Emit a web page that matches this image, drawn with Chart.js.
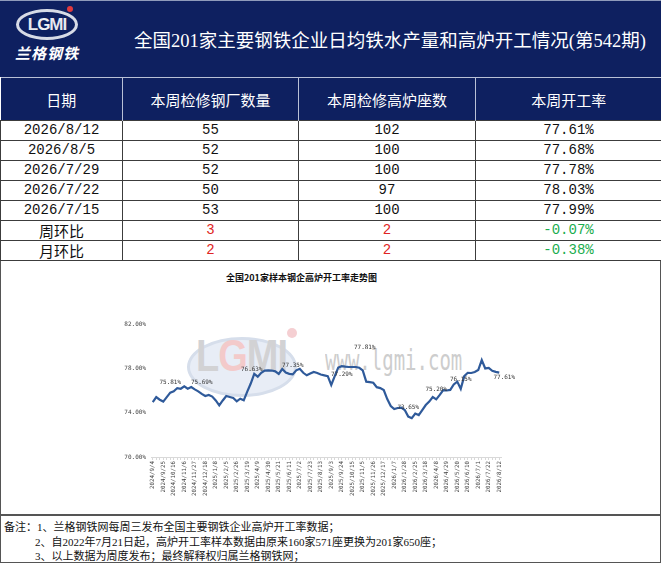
<!DOCTYPE html>
<html>
<head>
<meta charset="utf-8">
<script src="https://cdn.jsdelivr.net/npm/chart.js@4.4.1/dist/chart.umd.min.js"></script>
<style>
  body { margin: 0; width: 661px; height: 563px; position: relative; background: #fff; overflow: hidden;
         font-family: "Liberation Serif", "Noto Sans CJK SC", sans-serif; }
  .abs { position: absolute; }
  #head { left: 0; top: 0; width: 661px; height: 77px; background: #0e2060; border-top: 1px solid #8f9bbb; box-sizing: border-box; }
  #title { left: 134px; top: 28px; color: #fff; font-size: 18.5px; white-space: nowrap; line-height: 26px; }
  #ring { left: 16px; top: 9px; width: 56px; height: 25px; border-radius: 50%; border: 3px solid #d7dbe6;
          text-align: center; font: bold 17px/25px "Liberation Sans", sans-serif; color: #e6e8f0; letter-spacing: -1px; }
  #ring .g { color: #f0f0f4; }
  #dot { left: 67px; top: 6px; width: 6px; height: 6px; border-radius: 50%; background: #e0393e; }
  #cn { left: 15px; top: 43px; color: #fff; font: italic bold 15px/20px "Noto Sans CJK SC"; letter-spacing: 1px; }
  table { position: absolute; left: 0; top: 77px; width: 661px; border-collapse: collapse; table-layout: fixed; }
  th { background: #0e2060; color: #fff; font-weight: normal; font-size: 15px; height: 42px; padding: 0;
       border-left: 1px solid #b8c0d6; border-top: 1px solid #b8c0d6; font-family: "Noto Sans CJK SC"; }
  td { height: 19px; padding: 0; text-align: center; border: 1px solid #3c3c3c; font-size: 14px; line-height: 19px;
       font-family: "Liberation Mono", "Noto Sans CJK SC", monospace; color: #111; }
  td.cn { font-family: "Noto Sans CJK SC"; font-size: 15px; }
  .up { color: #e02424; }
  .down { color: #1aad4e; }
  #chartBox { left: 0; top: 261px; width: 659px; height: 253px; border-left: 1px solid #555; border-right: 1px solid #555; }
  #chartTitle { left: 226px; top: 272px; font: bold 9px/12px "Noto Sans CJK SC"; color: #111; white-space: nowrap; }
  #wmEll { left: 187px; top: 337px; width: 104px; height: 54px; border-radius: 50%; background: #e8edf6; border: 3px solid #d6deeb; }
  #wmText { left: 196px; top: 333px; font: bold 38px/40px "Liberation Sans", sans-serif; color: #d2d2d4;
            transform: scaleY(1.15); transform-origin: top left; letter-spacing: -1px; }
  #wmText .g { color: #f3caca; }
  #wmDot { left: 287px; top: 328px; width: 10px; height: 10px; border-radius: 50%; background: #f5cfd2; }
  #wmUrl { left: 325px; top: 347px; font: 19px/19px "DejaVu Sans Mono", monospace; color: #cdcdcd;
           transform: scaleY(1.45); transform-origin: top left; white-space: nowrap; }
  #chartWrap { left: 1px; top: 262px; }
  #notes { left: 0; top: 514px; width: 661px; height: 49px; box-sizing: border-box; border: 1px solid #555; border-top: 2px solid #555;
           font-size: 11px; line-height: 14.5px; padding: 4px 0 0 3px; color: #111; }
  #notes .ind { padding-left: 31px; }
</style>
</head>
<body>
<div id="head" class="abs"></div>
<div id="ring" class="abs">L<span class="g">G</span>MI</div>
<div id="dot" class="abs"></div>
<div id="cn" class="abs">兰格钢铁</div>
<div id="title" class="abs">全国201家主要钢铁企业日均铁水产量和高炉开工情况(第542期)</div>

<table>
  <colgroup><col style="width:122px"><col style="width:176px"><col style="width:177px"><col style="width:186px"></colgroup>
  <thead>
    <tr><th style="border-left:none">日期</th><th>本周检修钢厂数量</th><th>本周检修高炉座数</th><th>本周开工率</th></tr>
  </thead>
  <tbody id="tbody"></tbody>
</table>

<div id="chartBox" class="abs"></div>
<div id="wmEll" class="abs"></div>
<div id="wmText" class="abs">L<span class="g">G</span>MI</div>
<div id="wmDot" class="abs"></div>
<div id="wmUrl" class="abs">www.lgmi.com</div>
<div id="chartTitle" class="abs">全国201家样本钢企高炉开工率走势图</div>
<div id="chartWrap" class="abs"><canvas id="myChart" width="659" height="251"></canvas></div>

<div id="notes" class="abs">
  <div>备注：1、兰格钢铁网每周三发布全国主要钢铁企业高炉开工率数据；</div>
  <div class="ind">2、自2022年7月21日起，高炉开工率样本数据由原来160家571座更换为201家650座；</div>
  <div class="ind">3、以上数据为周度发布；最终解释权归属兰格钢铁网；</div>
</div>

<script>
  'use strict';

  ////// table data //////
  var tableDates = ['2026/8/12', '2026/8/5', '2026/7/29', '2026/7/22', '2026/7/15'];
  var millsDown = [55, 52, 52, 50, 53];
  var furnacesDown = [102, 100, 100, 97, 100];
  var rateText = ['77.61%', '77.68%', '77.78%', '78.03%', '77.99%'];
  var compareNames = ['周环比', '月环比'];
  var compareMills = [3, 2];
  var compareFurnaces = [2, 2];
  var compareRate = ['-0.07%', '-0.38%'];

  ////// chart data //////
  var dates = [
    '2024/9/4', '2024/9/11', '2024/9/18', '2024/9/25', '2024/10/2', '2024/10/9', '2024/10/16', '2024/10/23',
    '2024/10/30', '2024/11/6', '2024/11/13', '2024/11/20', '2024/11/27', '2024/12/4', '2024/12/11', '2024/12/18',
    '2024/12/25', '2025/1/1', '2025/1/8', '2025/1/15', '2025/1/22', '2025/2/5', '2025/2/12', '2025/2/19',
    '2025/2/26', '2025/3/5', '2025/3/12', '2025/3/19', '2025/3/26', '2025/4/2', '2025/4/9', '2025/4/16',
    '2025/4/23', '2025/4/30', '2025/5/7', '2025/5/14', '2025/5/21', '2025/5/28', '2025/6/4', '2025/6/11',
    '2025/6/18', '2025/6/25', '2025/7/2', '2025/7/9', '2025/7/16', '2025/7/23', '2025/7/30', '2025/8/6',
    '2025/8/13', '2025/8/20', '2025/8/27', '2025/9/3', '2025/9/10', '2025/9/17', '2025/9/24', '2025/10/1',
    '2025/10/8', '2025/10/15', '2025/10/22', '2025/10/29', '2025/11/5', '2025/11/12', '2025/11/19', '2025/11/26',
    '2025/12/3', '2025/12/10', '2025/12/17', '2025/12/24', '2025/12/31', '2026/1/7', '2026/1/14', '2026/1/21',
    '2026/1/28', '2026/2/4', '2026/2/11', '2026/2/25', '2026/3/4', '2026/3/11', '2026/3/18', '2026/3/25',
    '2026/4/1', '2026/4/8', '2026/4/15', '2026/4/22', '2026/4/29', '2026/5/6', '2026/5/13', '2026/5/20',
    '2026/5/27', '2026/6/3', '2026/6/10', '2026/6/17', '2026/6/24', '2026/7/1', '2026/7/8', '2026/7/15',
    '2026/7/22', '2026/7/29', '2026/8/5', '2026/8/12'
  ];

  var rates = [
    74.95, 75.40, 75.17, 75.00, 75.40, 75.81, 75.92, 76.22, 76.16, 76.38,
    76.16, 76.31, 76.10, 75.92, 75.69, 75.50, 75.60, 75.45, 75.10, 74.66,
    75.10, 75.50, 75.41, 75.32, 75.02, 75.26, 75.11, 75.90, 76.63, 77.50,
    77.25, 77.60, 77.80, 77.82, 77.80, 77.73, 77.50, 77.94, 77.62, 77.50,
    77.45, 77.82, 77.96, 77.60, 77.37, 77.53, 77.67, 77.58, 77.44, 77.37,
    77.30, 76.50, 77.29, 78.07, 78.20, 78.15, 78.12, 78.12, 78.12, 78.05,
    77.81, 76.80, 76.76, 76.70, 76.30, 76.22, 76.04, 75.23, 74.60, 74.33,
    74.42, 74.46, 74.24, 73.65, 73.50, 73.92, 73.78, 74.24, 74.69, 75.00,
    75.41, 75.20, 75.60, 76.04, 76.00, 76.05, 76.54, 76.80, 76.15, 77.30,
    77.60, 77.58, 77.67, 77.85, 78.75, 77.99, 78.03, 77.78, 77.68, 77.61
  ];

  var yTicks = [70, 74, 78, 82];

  // points that carry a value label, and the text shown there
  var labelIdx = [5, 14, 28, 40, 52, 60, 73, 81, 88, 99];
  var labelText = ['75.81%', '75.69%', '76.63%', '77.35%', '77.29%', '77.81%', '73.65%', '75.20%', '76.15%', '77.61%'];
  // label nudges in px (style, not data)
  var labelDx = [0, 0, 1, 0, 7, 2, 0, 0, 0, 5];
  var labelDy = [-10, -11, -14, -9, -2, -23, -9, -10, -9, 5];

  ////// build table //////
  var tbody = document.getElementById('tbody');
  var html = '';
  for (var i = 0; i < tableDates.length; i++) {
    html += '<tr><td>' + tableDates[i] + '</td><td>' + millsDown[i] + '</td><td>' + furnacesDown[i] +
            '</td><td>' + rateText[i] + '</td></tr>';
  }
  for (var j = 0; j < compareNames.length; j++) {
    html += '<tr><td class="cn">' + compareNames[j] + '</td><td class="up">' + compareMills[j] +
            '</td><td class="up">' + compareFurnaces[j] + '</td><td class="down">' + compareRate[j] + '</td></tr>';
  }
  tbody.innerHTML = html;

  ////// chart //////
  var pointLabels = {
    id: 'pointLabels',
    afterDatasetsDraw: function(chart) {
      var ctx = chart.ctx;
      var meta = chart.getDatasetMeta(0);
      ctx.save();
      ctx.font = '6px "DejaVu Sans Mono"';
      ctx.fillStyle = '#333';
      ctx.textAlign = 'center';
      ctx.textBaseline = 'middle';
      for (var k = 0; k < labelIdx.length; k++) {
        var p = meta.data[labelIdx[k]];
        ctx.fillText(labelText[k], p.x + labelDx[k], p.y + labelDy[k]);
      }
      ctx.restore();
    }
  };

  var ctx = document.getElementById('myChart');

  var myLineChart = new Chart(ctx, {
    type: 'line',
    data: {
      labels: dates,
      datasets: [{
        label: '高炉开工率',
        data: rates,
        borderColor: '#2f5a9a',
        borderWidth: 2.2,
        pointRadius: 0,
        tension: 0,
        fill: false
      }]
    },
    options: {
      responsive: false,
      animation: false,
      layout: { padding: { left: 120, right: 159, top: 62, bottom: 6 } },
      plugins: {
        legend: { display: false },
        tooltip: { enabled: false }
      },
      scales: {
        x: {
          offset: true,
          grid: { display: true, drawOnChartArea: false, drawTicks: true, tickLength: 3, color: '#d9d9d9' },
          border: { color: '#d9d9d9' },
          ticks: {
            autoSkip: false,
            minRotation: 90,
            maxRotation: 90,
            padding: 1,
            color: '#444',
            font: { family: 'DejaVu Sans Mono', size: 5.8 },
            callback: function(value, index) {
              return index % 3 === 0 ? dates[index] : '';
            }
          },
          afterFit: function(axis) { axis.height = 50; }
        },
        y: {
          min: yTicks[0],
          max: yTicks[yTicks.length - 1],
          grid: { display: false, drawTicks: false },
          border: { display: false },
          afterBuildTicks: function(axis) {
            axis.ticks = yTicks.map(function(v) { return { value: v }; });
          },
          ticks: {
            padding: 5,
            color: '#444',
            font: { family: 'DejaVu Sans Mono', size: 6 },
            callback: function(value) { return value.toFixed(2) + '%'; }
          },
          afterFit: function(axis) { axis.width = 30; }
        }
      }
    },
    plugins: [pointLabels]
  });
</script>
</body>
</html>
